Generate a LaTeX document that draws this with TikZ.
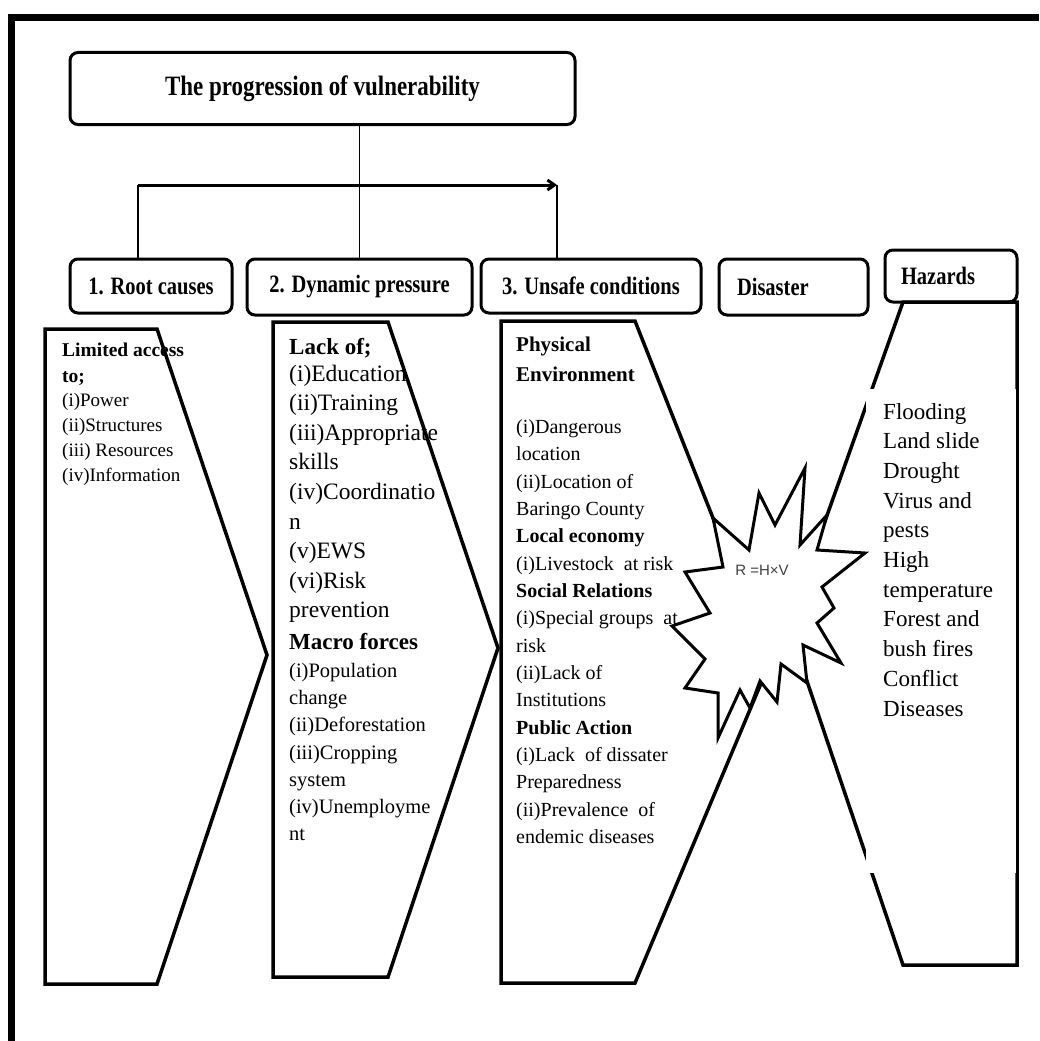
\documentclass[tikz,border=0pt]{standalone}
\usepackage{fontspec}
\setmainfont{Liberation Serif}
\newfontfamily\narrowfont{Liberation Serif}[FakeStretch=0.82]
\newfontfamily\starfont{Liberation Sans}
\usetikzlibrary{arrows.meta}
\begin{document}
\begin{tikzpicture}[x=1pt,y=-1pt,
  box/.style={draw, line width=3pt, rounded corners=8pt, inner sep=0pt,
    font={\narrowfont\bfseries\fontsize{25}{30}\selectfont}},
  colshape/.style={draw, line width=3.5pt, fill=white, line join=miter},
  conn/.style={line width=1.5pt},
  txt/.style={anchor=base west, inner sep=0pt},
  boldtxt/.style={txt, font={\bfseries\fontsize{23}{27}\selectfont}}]
\useasboundingbox (0,0) rectangle (1039,1041);
% frame
\draw[line width=7pt] (11.5,1041) -- (11.5,17.5) -- (1039,17.5);

% boxes
\node[box, minimum width=505pt, minimum height=72pt] (title) at (322.5,88.5)
  {\fontsize{28}{32}\selectfont The progression of vulnerability};
\node[box, minimum width=162pt, minimum height=54pt] (rc) at (151,286) {1. Root causes};
\node[box, minimum width=225pt, minimum height=56pt] (dp) at (359.5,287) {2. Dynamic pressure};
\node[box, minimum width=220pt, minimum height=54pt] (uc) at (591,286) {3. Unsafe conditions};
\node[box, minimum width=149pt, minimum height=56pt, text width=113pt, align=left] (dis) at (793.5,287) {Disaster};
\node[box, minimum width=132pt, minimum height=52pt, text width=100pt, align=left] (haz) at (951,276) {Hazards};

% connectors
\coordinate (jl) at (138,185);
\coordinate (jr) at (557,185);
\draw[conn] (title.south -| dp.north) -- (dp.north);
\draw[line width=3pt, -{Straight Barb[length=7pt,width=10pt]}] (jl) -- (jr);
\draw[conn] (jl) -- (jl |- rc.north);
\draw[conn] (jr) -- (jr |- uc.north);

% columns
\draw[colshape] (45,329) -- (157,329) -- (267,655) -- (157,984) -- (45,984) -- cycle;
\draw[colshape] (273,322) -- (388,322) -- (498,648) -- (388,977) -- (273,977) -- cycle;
\draw[colshape] (501,321) -- (635,321) -- (770,662) -- (635,983) -- (501,983) -- cycle;
\draw[colshape] (903,302) -- (1017,302) -- (1017,965) -- (903,965) -- (788,625) -- cycle;
\fill[white] (866,389) rectangle (1016,873);
\draw[line width=1.6pt] (1017.8,389) -- (1017.8,873);

% star
\draw[colshape, line width=3pt] (713,518) -- (749,550) -- (759,493) -- (775,525) -- (805,468)
  -- (800,545) -- (827,515) -- (817,550) -- (865,553) -- (822,587) -- (834,608) -- (817,623)
  -- (841,663) -- (803,645) -- (807,683) -- (781,664) -- (777,702) -- (760,681) -- (750,708)
  -- (740,690) -- (718,738) -- (718,693) -- (685,688) -- (705,659) -- (672,626) -- (710,613)
  -- (685,572) -- (723,567) -- cycle;
\node[font={\starfont\fontsize{15}{18}\selectfont}, text=black!75, inner sep=0pt] (rhv) at (762,570) {R =H×V};

% column 1 text
\node[txt, font={\bfseries\fontsize{19.5}{23}\selectfont}] (c1a) at (62,356) {Limited access};
\node[txt, font={\bfseries\fontsize{19.5}{23}\selectfont}] (c1b) at (62,382) {to;};
\foreach \t [count=\i] in {(i)Power,(ii)Structures,(iii) Resources,(iv)Information}
  \node[txt, font={\fontsize{19}{22}\selectfont}] (c1i\i) at (62,{406+25.3*(\i-1)}) {\t};

% column 2 text
\node[boldtxt] (c2a) at (289,354) {Lack of;};
\foreach \t [count=\i] in {(i)Education,(ii)Training,(iii)Appropriate,skills,(iv)Coordinatio,n,(v)EWS,(vi)Risk,prevention}
  \node[txt, font={\fontsize{23.5}{27}\selectfont}] (c2i\i) at (289,{381+29.6*(\i-1)}) {\t};
\node[boldtxt] (c2b) at (289,649) {Macro forces};
\foreach \t [count=\i] in {(i)Population,change,(ii)Deforestation,(iii)Cropping,system,(iv)Unemployme,nt}
  \node[txt, font={\fontsize{20.5}{24}\selectfont}] (c2m\i) at (289,{677.5+27.2*(\i-1)}) {\t};

% column 3 text
\node[txt, font={\bfseries\fontsize{21}{25}\selectfont}] (c3a) at (516,351) {Physical};
\node[txt, font={\bfseries\fontsize{21}{25}\selectfont}] (c3b) at (516,381) {Environment};
\foreach \t [count=\i] in {(i)Dangerous,location,(ii)Location of,Baringo County,{\textbf{Local economy}},
  (i)Livestock\ \ at risk,{\textbf{Social Relations}},(i)Special groups\ \ at,risk,(ii)Lack of,Institutions,
  {\textbf{Public Action}},(i)Lack\ \ of dissater,Preparedness,(ii)Prevalence\ \ of,endemic diseases}
  \node[txt, font={\fontsize{20}{24}\selectfont}] (c3i\i) at (516,{433.5+27.33*(\i-1)}) {\t};

% hazards text
\foreach \t [count=\i] in {Flooding,Land slide,Drought,Virus and,pests,High,temperature,Forest and,bush fires,Conflict,Diseases}
  \node[txt, font={\fontsize{23}{27}\selectfont}] (h\i) at (883,{419+29.7*(\i-1)}) {\t};
\end{tikzpicture}
\end{document}
